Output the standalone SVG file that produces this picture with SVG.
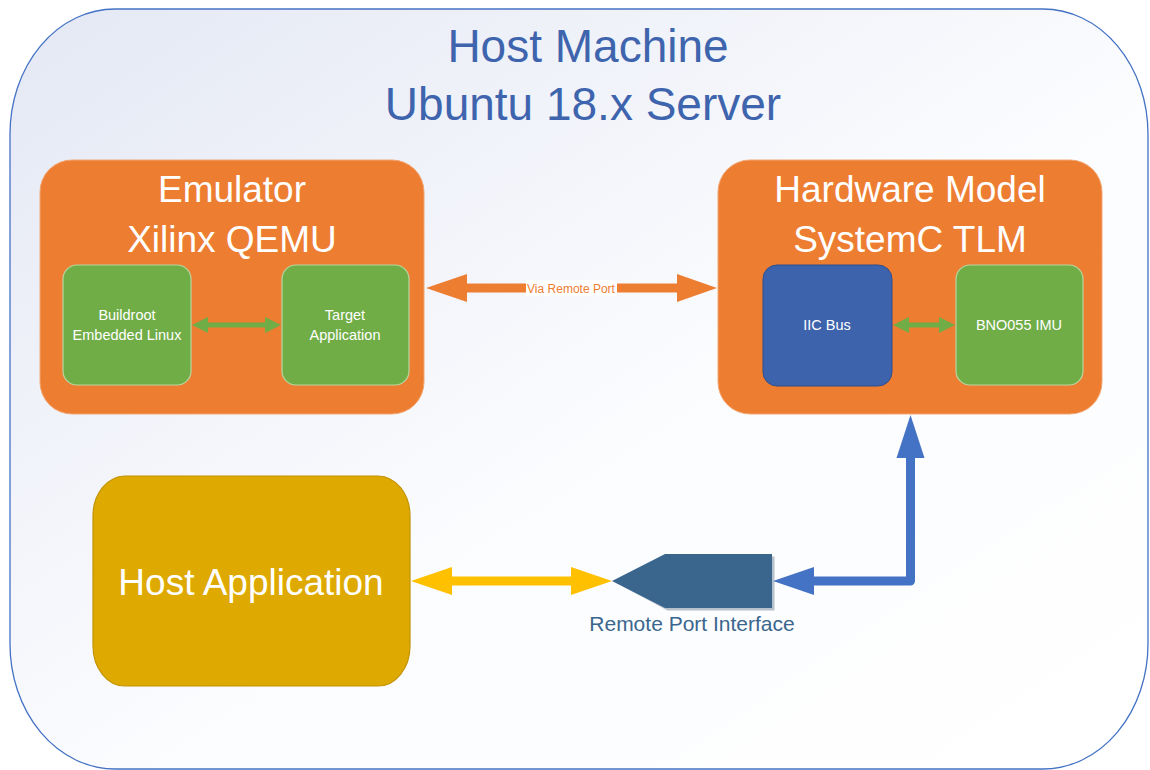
<svg xmlns="http://www.w3.org/2000/svg" width="1150" height="770" viewBox="0 0 1150 770">
<defs>
<linearGradient id="bg" x1="0" y1="0" x2="1" y2="1">
<stop offset="0" stop-color="#e4e8f4"/>
<stop offset="0.55" stop-color="#fbfcfe"/>
<stop offset="1" stop-color="#ffffff"/>
</linearGradient>
<style>
.t{font-family:"Liberation Sans",Arial,sans-serif;text-anchor:middle}
.big{font-size:37px;fill:#fff}
.small{font-size:14.5px;fill:#fff}
.title{font-size:46px;fill:#3f64ae}
.orange{fill:#ed7d31;stroke:#f2a774;stroke-width:1}
.green{fill:#70ad47;stroke:#b6d7a0;stroke-width:1.2}
.blue{fill:#3e63ad;stroke:#2f4f8c;stroke-width:1}
</style>
</defs>
<rect x="10" y="9" width="1138" height="760" rx="105" ry="125" fill="url(#bg)" stroke="#4472c4" stroke-width="1.3"/>
<text class="t title" x="588" y="62">Host Machine</text>
<text class="t title" x="583" y="120">Ubuntu 18.x Server</text>

<g id="emulator">
<rect class="orange" x="40" y="160" width="384" height="254" rx="32"/>
<text class="t big" x="232" y="202">Emulator</text>
<text class="t big" x="232" y="252">Xilinx QEMU</text>
</g>
<g id="buildroot">
<rect class="green" x="63" y="265" width="128" height="120" rx="14"/>
<text class="t small" x="127" y="320">Buildroot</text>
<text class="t small" x="127" y="340">Embedded Linux</text>
</g>
<g id="target">
<rect class="green" x="282" y="265" width="127" height="120" rx="14"/>
<text class="t small" x="345" y="320">Target</text>
<text class="t small" x="345" y="340">Application</text>
</g>

<g id="hardware">
<rect class="orange" x="718" y="160" width="384" height="254" rx="32"/>
<text class="t big" x="910" y="202">Hardware Model</text>
<text class="t big" x="910" y="252">SystemC TLM</text>
</g>
<g id="iic">
<rect class="blue" x="763" y="265" width="129" height="121" rx="14"/>
<text class="t small" x="827" y="330">IIC Bus</text>
</g>
<g id="bno">
<rect class="green" x="956" y="265" width="127" height="120" rx="14"/>
<text class="t small" x="1019" y="330">BNO055 IMU</text>
</g>

<g id="hostapp">
<rect x="93" y="476" width="317" height="210" rx="32" ry="40" fill="#dea900" stroke="#c29200" stroke-width="1.2"/>
<text class="t big" x="251" y="595">Host Application</text>
</g>

<g id="remoteport">
<polygon points="614,581 666,555 773,555 773,609 666,609" fill="#33506f" opacity="0.35" transform="translate(1.5,1.5)"/>
<polygon points="612,581 665,554 772,554 772,608 665,608" fill="#3a668e"/>
<text class="t" x="692" y="631" style="font-size:21px;fill:#3a668e">Remote Port Interface</text>
</g>

<g id="connectors">
<!-- green: buildroot <-> target -->
<rect x="206" y="322.5" width="60" height="5" fill="#70ad47"/>
<polygon points="192,325 208,317 208,333" fill="#70ad47"/>
<polygon points="281,325 265,317 265,333" fill="#70ad47"/>
<!-- green: iic <-> bno -->
<rect x="907" y="322.5" width="34" height="5" fill="#70ad47"/>
<polygon points="893,325 909,317 909,333" fill="#70ad47"/>
<polygon points="955,325 939,317 939,333" fill="#70ad47"/>
<!-- orange: emulator <-> hardware -->
<rect x="464" y="283.5" width="216" height="9" fill="#ed7d31"/>
<polygon points="426,288 467,274 467,302" fill="#ed7d31"/>
<polygon points="717,288 677,274 677,302" fill="#ed7d31"/>
<rect x="526" y="280" width="91" height="16" fill="#ffffff"/>
<text class="t" x="571" y="293" style="font-size:12px;fill:#ed7d31">Via Remote Port</text>
<!-- yellow: host app <-> remote port -->
<rect x="449" y="576.5" width="125" height="9" fill="#ffc000"/>
<polygon points="411,581 452,567 452,595" fill="#ffc000"/>
<polygon points="612,581 571,567 571,595" fill="#ffc000"/>
<!-- blue: remote port -> hardware model -->
<path d="M812,581 H910.5 V455" fill="none" stroke="#4472c4" stroke-width="9" stroke-linejoin="round"/>
<polygon points="773,581 814,567 814,595" fill="#4472c4"/>
<polygon points="910.5,415 896.5,458 924.5,458" fill="#4472c4"/>
</g>
</svg>
